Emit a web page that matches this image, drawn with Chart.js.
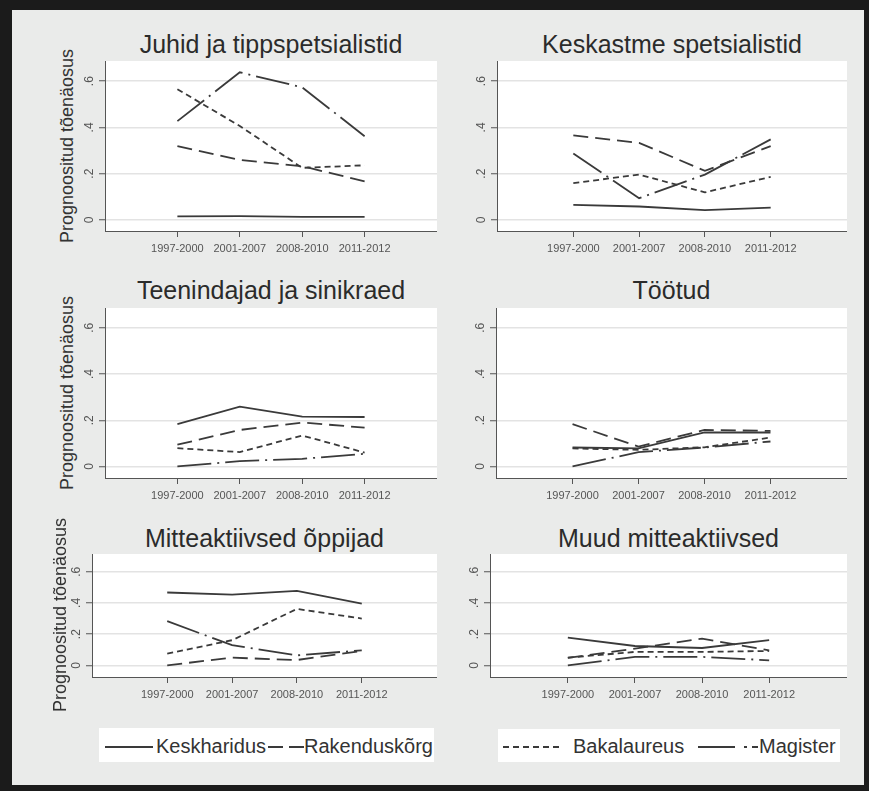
<!DOCTYPE html>
<html>
<head>
<meta charset="utf-8">
<script src="https://cdn.jsdelivr.net/npm/chart.js@4/dist/chart.umd.min.js"></script>
<style>
html,body{margin:0;padding:0;width:869px;height:791px;overflow:hidden;background:#1b1b1b;font-family:"Liberation Sans",Arial,sans-serif;}
#frame{position:absolute;left:12px;top:10px;width:852px;height:775px;background:#eaebea;}
.abs{position:absolute;}
.ptitle{position:absolute;font-size:25px;line-height:25px;color:#2b2b2b;text-align:center;white-space:nowrap;}
.ytitle{position:absolute;width:240px;height:22px;line-height:22px;font-size:18px;color:#333;text-align:center;white-space:nowrap;transform:rotate(-90deg);}
.lgbox{position:absolute;background:#fff;}
.lgtext{position:absolute;font-size:20px;line-height:20px;color:#333;white-space:nowrap;}
canvas{position:absolute;}
</style>
</head>
<body>
<div id="frame"></div>
<div id="root"></div>
<script>
// ---- data ----
const periods = ['1997-2000', '2001-2007', '2008-2010', '2011-2012'];
const yTickValues = [0, 0.2, 0.4, 0.6];
const yTickLabels = ['0', '.2', '.4', '.6'];
const seriesNames = ['Keskharidus', 'Rakenduskõrg', 'Bakalaureus', 'Magister'];
const panelTitles = ['Juhid ja tippspetsialistid', 'Keskastme spetsialistid', 'Teenindajad ja sinikraed', 'Töötud', 'Mitteaktiivsed õppijad', 'Muud mitteaktiivsed'];
const yAxisTitle = 'Prognoositud tõenäosus';

const juhidKesk = [0.015, 0.016, 0.013, 0.013];
const juhidRak  = [0.319, 0.259, 0.232, 0.167];
const juhidBak  = [0.565, 0.406, 0.225, 0.236];
const juhidMag  = [0.427, 0.638, 0.573, 0.362];

const keskKesk = [0.065, 0.058, 0.042, 0.053];
const keskRak  = [0.365, 0.333, 0.212, 0.319];
const keskBak  = [0.159, 0.196, 0.119, 0.186];
const keskMag  = [0.287, 0.094, 0.196, 0.348];

const teenKesk = [0.183, 0.259, 0.216, 0.214];
const teenRak  = [0.094, 0.158, 0.190, 0.168];
const teenBak  = [0.079, 0.062, 0.134, 0.060];
const teenMag  = [0.000, 0.023, 0.033, 0.055];

const tootKesk = [0.082, 0.078, 0.147, 0.147];
const tootRak  = [0.183, 0.086, 0.158, 0.154];
const tootBak  = [0.078, 0.072, 0.083, 0.125];
const tootMag  = [0.000, 0.062, 0.082, 0.108];

const oppKesk = [0.467, 0.454, 0.478, 0.396];
const oppRak  = [0.000, 0.049, 0.034, 0.092];
const oppBak  = [0.075, 0.161, 0.362, 0.300];
const oppMag  = [0.283, 0.129, 0.064, 0.096];

const muudKesk = [0.178, 0.124, 0.111, 0.161];
const muudRak  = [0.047, 0.107, 0.171, 0.096];
const muudBak  = [0.049, 0.086, 0.086, 0.092];
const muudMag  = [0.000, 0.054, 0.054, 0.032];

// ---- styling / layout ----
const dashes = [[], [15, 7], [6, 4], [34, 6, 2, 6]];
const lineColor = '#3a3a3a';
const AX = 40, XH = 30;

const panels = [
  {title: 0, series: [juhidKesk, juhidRak, juhidBak, juhidMag], L: 105, R: 437, T: 61, B: 231, yMin: -0.048, yMax: 0.687, titleTop: 32, yt: [67, 146]},
  {title: 1, series: [keskKesk, keskRak, keskBak, keskMag], L: 497, R: 847, T: 61, B: 231, yMin: -0.048, yMax: 0.687, titleTop: 32},
  {title: 2, series: [teenKesk, teenRak, teenBak, teenMag], L: 105, R: 437, T: 308, B: 478, yMin: -0.05, yMax: 0.686, titleTop: 278, yt: [67, 393]},
  {title: 3, series: [tootKesk, tootRak, tootBak, tootMag], L: 496, R: 847, T: 308, B: 478, yMin: -0.05, yMax: 0.686, titleTop: 278},
  {title: 4, series: [oppKesk, oppRak, oppBak, oppMag], L: 92, R: 437, T: 554, B: 677, yMin: -0.075, yMax: 0.714, titleTop: 526, yt: [60, 615]},
  {title: 5, series: [muudKesk, muudRak, muudBak, muudMag], L: 490, R: 847, T: 554, B: 677, yMin: -0.075, yMax: 0.714, titleTop: 526}
];

const root = document.getElementById('root');

const plotBg = {
  id: 'plotBg',
  beforeDraw(chart) {
    const a = chart.chartArea, c = chart.ctx;
    c.save(); c.fillStyle = '#ffffff';
    c.fillRect(a.left, a.top, a.right - a.left, a.bottom - a.top);
    c.restore();
  }
};
const yLabels = {
  id: 'yLabels',
  afterDraw(chart) {
    const s = chart.scales.y, c = chart.ctx;
    c.save();
    c.fillStyle = '#555';
    c.font = '12px "Liberation Sans", Arial, sans-serif';
    c.textAlign = 'center'; c.textBaseline = 'middle';
    yTickValues.forEach((v, i) => {
      const y = s.getPixelForValue(v);
      c.save();
      c.translate(chart.chartArea.left - 15, y);
      c.rotate(-Math.PI / 2);
      c.fillText(yTickLabels[i], 0, 0);
      c.restore();
    });
    c.restore();
  }
};

panels.forEach(p => {
  // title
  const t = document.createElement('div');
  t.className = 'ptitle';
  t.style.left = p.L + 'px'; t.style.width = (p.R - p.L) + 'px'; t.style.top = p.titleTop + 'px';
  t.textContent = panelTitles[p.title];
  root.appendChild(t);
  if (p.yt) {
    const yt = document.createElement('div');
    yt.className = 'ytitle';
    yt.style.left = (p.yt[0] - 120) + 'px'; yt.style.top = (p.yt[1] - 11) + 'px';
    yt.textContent = yAxisTitle;
    root.appendChild(yt);
  }
  const cv = document.createElement('canvas');
  const cl = p.L - AX;
  cv.width = p.R - cl; cv.height = p.B - p.T + XH;
  cv.style.left = cl + 'px'; cv.style.top = p.T + 'px';
  cv.style.width = cv.width + 'px'; cv.style.height = cv.height + 'px';
  root.appendChild(cv);

  new Chart(cv, {
    type: 'line',
    data: {
      datasets: p.series.map((vals, i) => ({
        label: seriesNames[i],
        data: vals.map((v, j) => ({x: j, y: v})),
        borderColor: lineColor,
        borderWidth: 1.8,
        borderDash: dashes[i],
        pointRadius: 0,
        tension: 0,
        fill: false
      }))
    },
    options: {
      responsive: false,
      animation: false,
      devicePixelRatio: 1,
      layout: {padding: 0},
      plugins: {legend: {display: false}, tooltip: {enabled: false}},
      scales: {
        x: {
          type: 'linear', min: -1.16, max: 4.16,
          afterBuildTicks: s => { s.ticks = periods.map((_, i) => ({value: i})); },
          afterFit: s => { s.height = XH; },
          grid: {drawOnChartArea: false, drawTicks: true, tickLength: 6, tickColor: '#555', tickWidth: 1},
          border: {display: true, color: '#555', width: 1},
          ticks: {color: '#555', font: {size: 11, family: '"Liberation Sans", Arial, sans-serif'}, padding: 5, maxRotation: 0, autoSkip: false,
                  callback: v => periods[v]}
        },
        y: {
          type: 'linear', min: p.yMin, max: p.yMax,
          afterBuildTicks: s => { s.ticks = yTickValues.map(v => ({value: v})); },
          afterFit: s => { s.width = AX; },
          grid: {color: '#e3e3e3', lineWidth: 1.5, drawTicks: true, tickLength: 6, tickColor: '#555', tickWidth: 1},
          border: {display: true, color: '#555', width: 1},
          ticks: {display: false}
        }
      }
    },
    plugins: [plotBg, yLabels]
  });
});

// ---- legends ----
function svgLine(x1, x2, y, dash) {
  const ns = 'http://www.w3.org/2000/svg';
  const svg = document.createElementNS(ns, 'svg');
  svg.setAttribute('width', x2 - x1); svg.setAttribute('height', 6);
  svg.style.position = 'absolute'; svg.style.left = x1 + 'px'; svg.style.top = (y - 3) + 'px';
  const l = document.createElementNS(ns, 'line');
  l.setAttribute('x1', 0); l.setAttribute('x2', x2 - x1); l.setAttribute('y1', 3); l.setAttribute('y2', 3);
  l.setAttribute('stroke', lineColor); l.setAttribute('stroke-width', 1.8);
  if (dash) l.setAttribute('stroke-dasharray', dash);
  svg.appendChild(l);
  root.appendChild(svg);
}
function box(l, t, w, h) {
  const d = document.createElement('div'); d.className = 'lgbox';
  d.style.left = l + 'px'; d.style.top = t + 'px'; d.style.width = w + 'px'; d.style.height = h + 'px';
  root.appendChild(d);
}
function text(x, top, s) {
  const d = document.createElement('div'); d.className = 'lgtext';
  d.style.left = x + 'px'; d.style.top = top + 'px'; d.textContent = s;
  root.appendChild(d);
}
box(99, 728, 335, 34);
box(498, 729, 342, 33);
svgLine(105, 153, 747, null);
text(156, 736, seriesNames[0]);
svgLine(268, 304, 747, '15 6');
text(304, 736, seriesNames[1]);
svgLine(503, 563, 747, '6 4');
text(573, 736, seriesNames[2]);
svgLine(698, 759, 747, '37 9 3 5 6');
text(759, 736, seriesNames[3]);
</script>
</body>
</html>
